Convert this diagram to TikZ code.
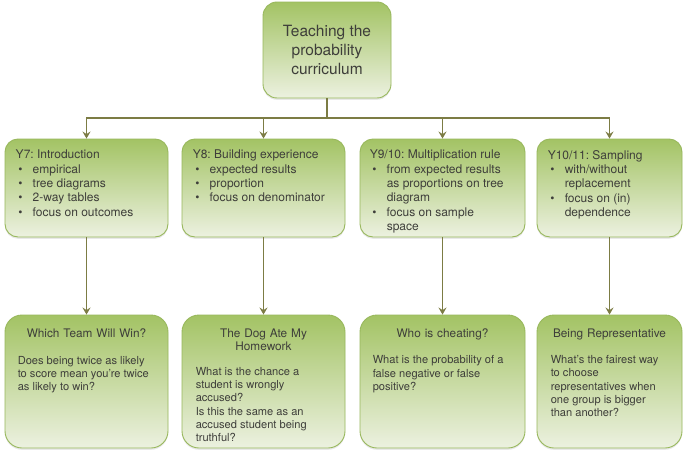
\documentclass[tikz,border=0pt]{standalone}
\usepackage{fontspec}
\setmainfont{TeX Gyre Heros}
\usetikzlibrary{arrows.meta, shadows, calc}

\definecolor{boxtop}{RGB}{163,195,100}
\definecolor{boxbot}{RGB}{236,241,224}
\definecolor{boxline}{RGB}{152,184,92}
\definecolor{connline}{RGB}{124,124,68}
\definecolor{textgray}{RGB}{62,62,58}

\frenchspacing
\hyphenpenalty=10000
\exhyphenpenalty=10000

% bullet line with hanging indent
\newcommand{\bul}[1]{\par\noindent\hangindent=17pt\hangafter=1\makebox[17pt][l]{\hspace{2.5pt}\textbullet}#1\par}

\begin{document}
\begin{tikzpicture}[
    x=1pt, y=-1pt,
    box/.style={draw=boxline, line width=0.9pt, top color=boxtop, bottom color=boxbot,
      inner sep=0pt, drop shadow={opacity=0.18, shadow xshift=0pt, shadow yshift=-1.8pt}},
    rootbox/.style={box, rounded corners=14pt, minimum width=128pt, minimum height=96pt,
      align=center, text=textgray, font=\fontsize{15.5}{19}\selectfont},
    yearbox/.style={box, rounded corners=13pt, minimum height=98pt},
    yeartext/.style={anchor=north west, inner sep=0pt, align=flush left, text=textgray,
      font=\fontsize{12}{14.3}\selectfont},
    taskbox/.style={box, rounded corners=17pt, minimum height=133pt},
    tasktitle/.style={anchor=north, inner sep=0pt, align=center, text width=150pt, text=textgray,
      font=\fontsize{11.8}{13.4}\selectfont},
    tasktext/.style={anchor=north west, inner sep=0pt, align=flush left, text=textgray,
      font=\fontsize{11.1}{13.3}\selectfont},
    conn/.style={draw=connline, line width=1.6pt, -{Stealth[length=7pt, width=8pt, inset=2.5pt]}}
  ]

    \useasboundingbox[fill=white] (0,0) rectangle (686,455);

    % Root node
    \node[rootbox] (root) at (327,50) {Teaching the\\probability\\curriculum};

    % Year groups
    \node[yearbox, minimum width=163pt] (y7)  at (86.5,188)  {};
    \node[yearbox, minimum width=163pt] (y8)  at (263.5,188) {};
    \node[yearbox, minimum width=165pt] (y9)  at (442.5,188) {};
    \node[yearbox, minimum width=145pt] (y10) at (609.5,188) {};

    \node[yeartext, text width=140pt] (y7t) at ($(y7.north west)+(11,11.5)$) {
      Y7: Introduction
      \bul{empirical}
      \bul{tree diagrams}
      \bul{2-way tables}
      \bul{focus on outcomes}
    };
    \node[yeartext, text width=140pt] (y8t) at ($(y8.north west)+(11,11.5)$) {
      Y8: Building experience
      \bul{expected results}
      \bul{proportion}
      \bul{focus on denominator}
    };
    \node[yeartext, text width=137pt] (y9t) at ($(y9.north west)+(10,11.5)$) {
      Y9/10: Multiplication rule
      \bul{from expected results as proportions on tree diagram}
      \bul{focus on sample space}
    };
    \node[yeartext, text width=120pt] (y10t) at ($(y10.north west)+(11,11.5)$) {
      Y10/11: Sampling
      \bul{with/without replacement}
      \bul{focus on (in) dependence}
    };

    % Classroom tasks
    \node[taskbox, minimum width=163pt] (q7)  at (86.5,381.5)  {};
    \node[taskbox, minimum width=163pt] (q8)  at (263.5,381.5) {};
    \node[taskbox, minimum width=165pt] (q9)  at (442.5,381.5) {};
    \node[taskbox, minimum width=145pt] (q10) at (609.5,381.5) {};

    \node[tasktitle] (q7h)  at ($(q7.north)+(0,13.7)$)  {Which Team Will Win?};
    \node[tasktitle] (q8h)  at ($(q8.north)+(0,13.7)$)  {The Dog Ate My\\Homework};
    \node[tasktitle] (q9h)  at ($(q9.north)+(0,13.7)$)  {Who is cheating?};
    \node[tasktitle] (q10h) at ($(q10.north)+(0,13.7)$) {Being Representative};

    \node[tasktext, text width=135pt] (q7b) at ($(q7.west |- q7h.south)+(13,18.5)$)
      {Does being twice as likely to score mean you're twice as likely to win?};
    \node[tasktext, text width=120pt] (q8b) at ($(q8.west |- q8h.south)+(14,16)$)
      {What is the chance a student is wrongly accused?\\Is this the same as an accused student being truthful?};
    \node[tasktext, text width=135pt] (q9b) at ($(q9.west |- q9h.south)+(13,15.5)$)
      {What is the probability of a false negative or false positive?};
    \node[tasktext, text width=112pt] (q10b) at ($(q10.west |- q10h.south)+(14,15.5)$)
      {What's the fairest way to choose representatives when one group is bigger than another?};

    % Connectors
    \coordinate (bus) at (0,118);
    \foreach \y in {y7, y8, y9, y10} {
      \draw[conn] (root.south) -- (root.south |- bus) -| (\y.north);
    }
    \draw[conn] (y7.south)  -- (q7.north);
    \draw[conn] (y8.south)  -- (q8.north);
    \draw[conn] (y9.south)  -- (q9.north);
    \draw[conn] (y10.south) -- (q10.north);

  \end{tikzpicture}
\end{document}
